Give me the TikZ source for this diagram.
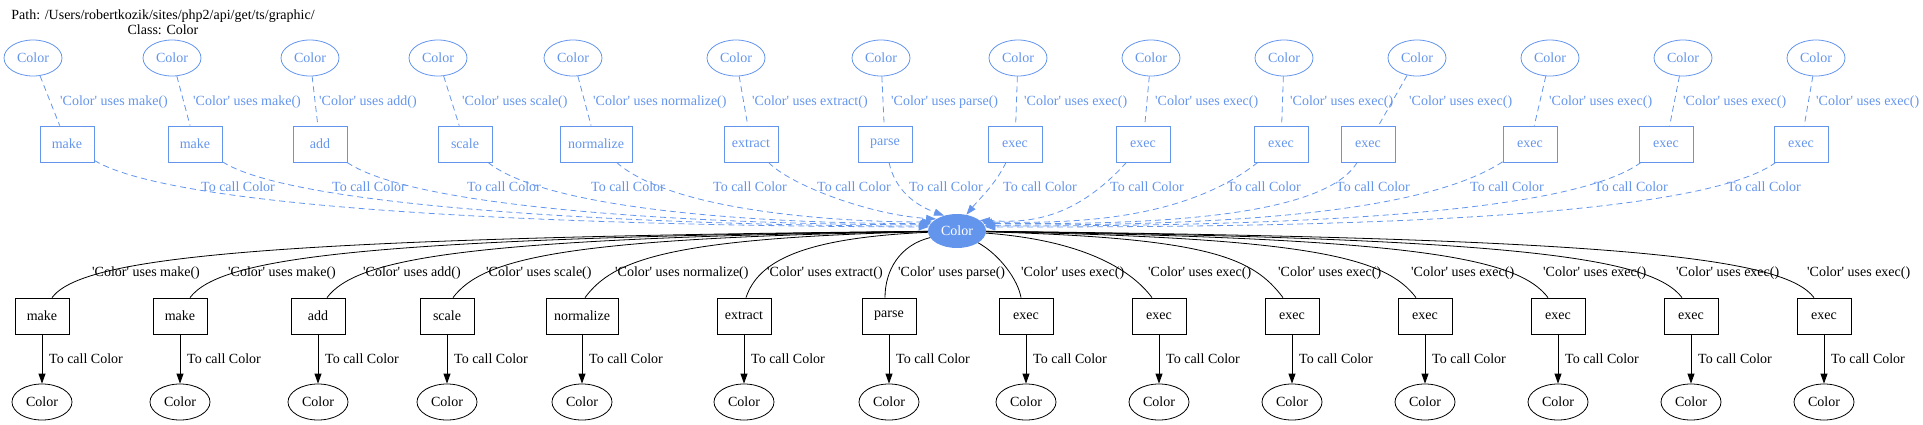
\documentclass[tikz,border=0pt]{standalone}
\usepackage{fontspec}
\setmainfont{Liberation Serif}[Ligatures=TeXOff]
\usetikzlibrary{shapes.geometric,arrows.meta}
\definecolor{cblue}{RGB}{100,149,237}
\begin{document}
\begin{tikzpicture}[x=1pt,y=-1pt,font=\fontsize{14}{16}\selectfont,
  topell/.style={ellipse,draw=cblue,text=cblue,minimum width=58pt,minimum height=36pt,inner sep=0pt,line width=0.8pt},
  topbox/.style={rectangle,draw=cblue,text=cblue,minimum width=54pt,minimum height=36pt,inner xsep=8pt,line width=0.8pt},
  botell/.style={ellipse,draw=black,minimum width=60pt,minimum height=36pt,inner sep=0pt,line width=0.8pt},
  botbox/.style={rectangle,draw=black,minimum width=54pt,minimum height=36pt,inner xsep=8pt,line width=0.8pt},
  central/.style={ellipse,fill=cblue,text=white,minimum width=58pt,minimum height=34pt,inner sep=0pt},
  dashedge/.style={draw=cblue,dash pattern=on 6pt off 4pt,line width=0.8pt},
  topcall/.style={dashedge,-{Triangle[length=10pt,width=7pt,fill=cblue]}},
  botedge/.style={draw=black,line width=0.8pt},
  botcall/.style={draw=black,line width=0.8pt,-{Triangle[length=10pt,width=7pt,fill=black]}},
  lbl/.style={anchor=west,inner sep=0pt},
  blbl/.style={lbl,text=cblue}]
\useasboundingbox (0,0) rectangle (1923,424);
% title
\node[anchor=base,inner sep=0pt] (title1) at (163,19) {Path: /Users/robertkozik/sites/php2/api/get/ts/graphic/};
\node[anchor=base,inner sep=0pt] (title2) at (163,34) {Class: Color};
% central node
\node[central] (C) at (957,231) {Color};
% top ellipses
\foreach \x/\n in {33/1,172/2,310/3,438/4,573/5,736/6,881/7,1018/8,1151/9,1284/10,1417/11,1550/12,1683/13,1816/14}
  \node[topell] (te\n) at (\x,58) {Color};
% top boxes
\foreach \x/\n/\t in {67/1/make,195/2/make,320/3/add,465/4/scale,596/5/normalize,751/6/extract,885/7/parse,1015/8/exec,1143/9/exec,1281/10/exec,1368/11/exec,1530/12/exec,1666/13/exec,1801/14/exec}
  \node[topbox] (tb\n) at (\x,144) {\t};
% bottom boxes and ellipses
\foreach \x/\n/\t in {42/1/make,180/2/make,318/3/add,447/4/scale,582/5/normalize,744/6/extract,889/7/parse,1026/8/exec,1159/9/exec,1292/10/exec,1425/11/exec,1558/12/exec,1691/13/exec,1824/14/exec}{
  \node[botbox] (bb\n) at (\x,316) {\t};
  \node[botell] (be\n) at (\x,402) {Color};
}
% top dashed edges ellipse -> box
\foreach \n in {1,...,14}
  \draw[dashedge] (te\n) -- (tb\n);
% top labels 'Color' uses
\foreach \x/\t in {60/make,193/make,319/add,462/scale,593/normalize,752/extract,891/parse,1024/exec,1155/exec,1290/exec,1409/exec,1549/exec,1683/exec,1816/exec}
  \node[blbl] at (\x,102) {'Color' uses \t()};
% top call edges box -> C
\foreach \n/\ax/\ay/\bx/\by/\ang in {1/180/212/600/226/172,2/300/212/700/226/170,3/420/212/740/225/167,4/550/212/780/224/164,5/670/210/830/222/160,6/790/185/870/215/150,7/895/190/915/205/130,8/995/185/980/198/60,9/1070/225/1020/222/25,10/1180/224/1060/223/20,11/1320/225/1100/224/16,12/1410/222/1160/225/12,13/1560/222/1200/226/10,14/1690/225/1250/227/8}
  \draw[topcall] (tb\n) .. controls (\ax,\ay) and (\bx,\by) .. (C.\ang);
% top To call labels
\foreach \x in {201,332,467,591,713,817,909,1003,1110,1227,1336,1470,1594,1727}
  \node[blbl] at (\x,187) {To call Color};
% bottom edges C -> box
\foreach \n/\ax/\ay/\bx/\by/\dx in {1/251/238/82/258/10,2/359/238/220/258/10,3/466/238/357/258/9,4/564/238/483/258/6,5/667/238/613/260/3,6/800/238/758/262/2,7/900/245/885/270/-4,8/1000/255/1018/280/-5,9/1080/240/1130/268/-7,10/1211/238/1253/258/-9,11/1315/238/1386/258/-9,12/1418/238/1518/258/-10,13/1522/238/1652/258/-9,14/1625/238/1784/258/-10}
  \draw[botedge] (C) .. controls (\ax,\ay) and (\bx,\by) .. ([xshift=\dx pt]bb\n.north);
% bottom labels 'Color' uses
\foreach \x/\t in {92/make,228/make,363/add,486/scale,615/normalize,767/extract,898/parse,1021/exec,1148/exec,1278/exec,1411/exec,1543/exec,1676/exec,1807/exec}
  \node[lbl] at (\x,273) {'Color' uses \t()};
% bottom arrows box -> ellipse
\foreach \n in {1,...,14}
  \draw[botcall] (bb\n) -- (be\n);
% bottom To call labels
\foreach \x in {42,180,318,447,582,744,889,1026,1159,1292,1425,1558,1691,1824}
  \node[lbl] at (\x+7,359) {To call Color};
\end{tikzpicture}
\end{document}
